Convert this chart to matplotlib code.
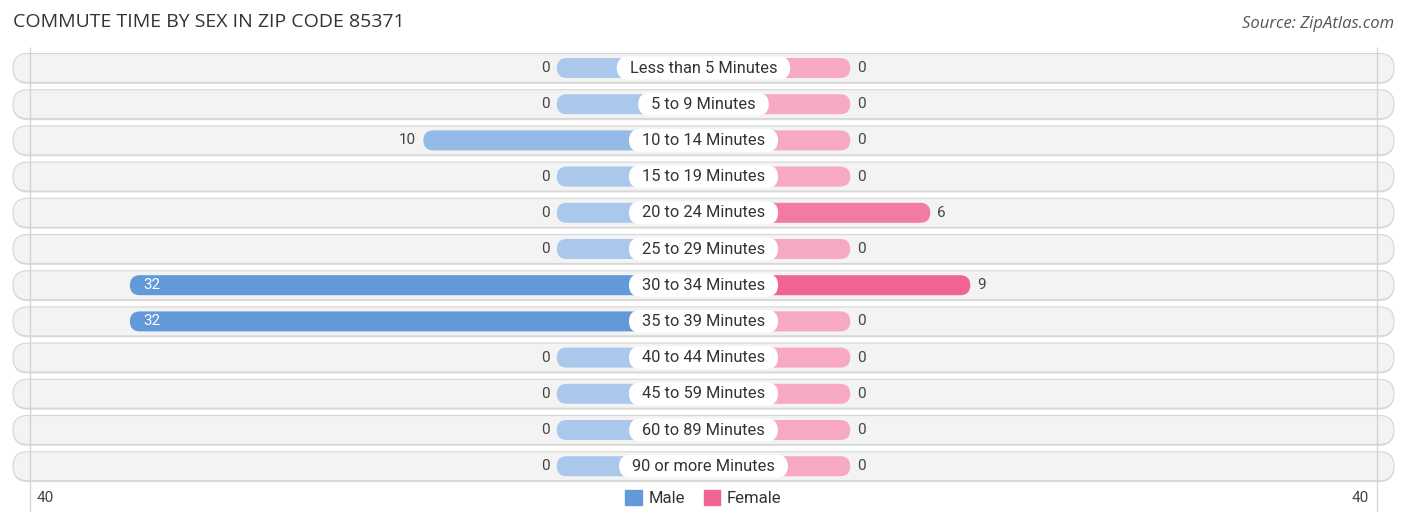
import matplotlib.pyplot as plt
from matplotlib.patches import FancyBboxPatch, Patch

# data
categories = ['Less than 5 Minutes', '5 to 9 Minutes', '10 to 14 Minutes', '15 to 19 Minutes',
              '20 to 24 Minutes', '25 to 29 Minutes', '30 to 34 Minutes', '35 to 39 Minutes',
              '40 to 44 Minutes', '45 to 59 Minutes', '60 to 89 Minutes', '90 or more Minutes']
male = [0, 0, 10, 0, 0, 0, 32, 32, 0, 0, 0, 0]
female = [0, 0, 0, 0, 6, 0, 9, 0, 0, 0, 0, 0]
axis_max = 40

plt.rcParams['font.family'] = ['Roboto', 'DejaVu Sans']

W, H = 1406, 523
fig = plt.figure(figsize=(W / 100, H / 100), dpi=100)
ax = fig.add_axes([0, 0, 1, 1])
ax.axis('off')

# scale: pixels per value unit / per row
px_x = 13.34
px_y = 36.2
cx, top = 703.5, 68
stub = 11.0  # zero values still get a short bar
ax.set_xlim(-cx / px_x, (W - cx) / px_x)
ax.set_ylim((H - top) / px_y, -top / px_y)
asp = px_x / px_y


def mix(c1, c2, t):
    a = [int(c1[i:i + 2], 16) for i in (1, 3, 5)]
    b = [int(c2[i:i + 2], 16) for i in (1, 3, 5)]
    return tuple((a[k] + (b[k] - a[k]) * t) / 255 for k in range(3))


def pill(x0, x1, y, h, fc, ec='none', lw=0, z=2):
    r = h / 2 / asp
    p = FancyBboxPatch((x0, y - h / 2), x1 - x0, h,
                       boxstyle=f'round,pad=0,rounding_size={r}',
                       mutation_aspect=asp, fc=fc, ec=ec, lw=lw, zorder=z)
    ax.add_patch(p)


male_light, male_full = '#aac8ec', '#6199d9'
fem_light, fem_full = '#f7a8c2', '#f06492'
m_max, f_max = max(male), max(female)

bg_half = 690.5 / px_x
grid_x = 673.5 / px_x
ax.vlines([-grid_x, grid_x], -21 / px_y, (511 - top) / px_y, color='#d4d4d4', lw=1, zorder=2)

for i, cat in enumerate(categories):
    pill(-bg_half, bg_half, i + 0.03, 0.82, '#dcdcdc', z=0)
    pill(-bg_half, bg_half, i, 0.80, '#f3f3f3', ec='#d6d6d6', lw=0.8, z=1)

    m, f = male[i], female[i]
    bh = 20 / px_y
    pill(-(stub + m), 0, i, bh, mix(male_light, male_full, m / m_max), z=3)
    pill(0, stub + f, i, bh, mix(fem_light, fem_full, f / f_max), z=3)

    if m >= 20:
        ax.text(-(stub + m) + 13 / px_x, i, str(m), ha='left', va='center',
                fontsize=11, color='white', zorder=6)
    else:
        ax.text(-(stub + m) - 7 / px_x, i, str(m), ha='right', va='center',
                fontsize=11, color='#444444', zorder=6)
    ax.text(stub + f + 7 / px_x, i, str(f), ha='left', va='center',
            fontsize=11, color='#444444', zorder=6)

    t = ax.text(0, i, cat, ha='center', va='center', fontsize=11.8, color='#333333', zorder=6)
    fig.canvas.draw()
    bb = t.get_window_extent(fig.canvas.get_renderer())
    half = (bb.width / 2 + 13) / px_x
    pill(-half, half, i, 23 / px_y, 'white', z=5)

# axis end labels
ax.text(-grid_x + 7 / px_x, (498 - top) / px_y, str(axis_max), ha='left', va='center',
        fontsize=11, color='#444444')
ax.text(grid_x - 8 / px_x, (498 - top) / px_y, str(axis_max), ha='right', va='center',
        fontsize=11, color='#444444')

handles = [Patch(color=male_full), Patch(color=fem_full)]
fig.legend(handles, ['Male', 'Female'], loc='center', bbox_to_anchor=(cx / W, 1 - 498 / H),
           ncol=2, frameon=False, fontsize=12, handlelength=1.0, handleheight=1.0,
           columnspacing=1.1, handletextpad=0.4, labelcolor='#333333')

fig.text(13 / W, 1 - 22 / H, 'COMMUTE TIME BY SEX IN ZIP CODE 85371', ha='left', va='center',
         fontsize=14, color='#333333', family=['Open Sans', 'DejaVu Sans'])
fig.text(1394 / W, 1 - 24 / H, 'Source: ZipAtlas.com', ha='right', va='center',
         fontsize=12, color='#555555', style='italic', family=['Open Sans', 'DejaVu Sans'])

fig.savefig('out.png', dpi=100)
